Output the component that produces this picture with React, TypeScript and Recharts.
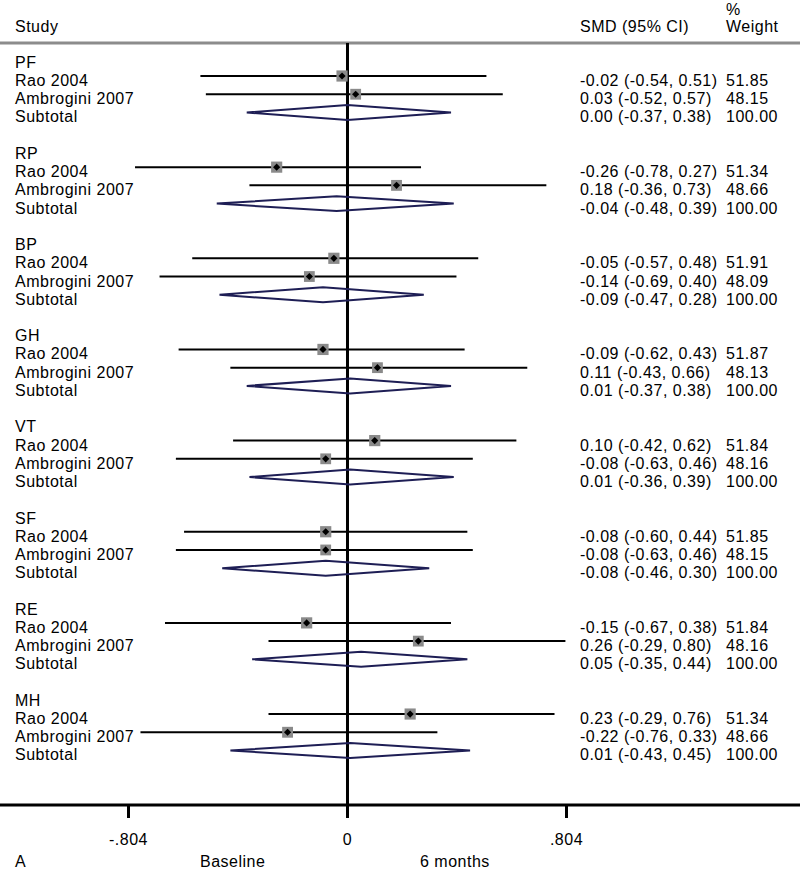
import React from 'react';
import {
  ComposedChart,
  Scatter,
  XAxis,
  YAxis,
  ReferenceLine,
} from 'recharts';

// SF-36 domains, each with two studies and a pooled subtotal
const domains = ['PF', 'RP', 'BP', 'GH', 'VT', 'SF', 'RE', 'MH'];
const studyNames = ['Rao 2004', 'Ambrogini 2007'];

const raoSmd = [-0.02, -0.26, -0.05, -0.09, 0.1, -0.08, -0.15, 0.23];
const raoLo = [-0.54, -0.78, -0.57, -0.62, -0.42, -0.6, -0.67, -0.29];
const raoHi = [0.51, 0.27, 0.48, 0.43, 0.62, 0.44, 0.38, 0.76];
const raoWeight = [51.85, 51.34, 51.91, 51.87, 51.84, 51.85, 51.84, 51.34];

const ambSmd = [0.03, 0.18, -0.14, 0.11, -0.08, -0.08, 0.26, -0.22];
const ambLo = [-0.52, -0.36, -0.69, -0.43, -0.63, -0.63, -0.29, -0.76];
const ambHi = [0.57, 0.73, 0.4, 0.66, 0.46, 0.46, 0.8, 0.33];
const ambWeight = [48.15, 48.66, 48.09, 48.13, 48.16, 48.15, 48.16, 48.66];

const subSmd = [0.0, -0.04, -0.09, 0.01, 0.01, -0.08, 0.05, 0.01];
const subLo = [-0.37, -0.48, -0.47, -0.37, -0.36, -0.46, -0.35, -0.43];
const subHi = [0.38, 0.39, 0.28, 0.38, 0.39, 0.3, 0.44, 0.45];

const xTicks = [-0.804, 0, 0.804];
const xTickLabels = ['-.804', '0', '.804'];

const FONT = "'Liberation Sans', Arial, sans-serif";
const NAVY = '#1e1e55';

interface Row {
  x: number;
  y: number;
  kind: 'head' | 'study' | 'sub';
  label: string;
  est?: number;
  lo?: number;
  hi?: number;
  w?: number;
}

const f2 = (v: number) => v.toFixed(2);

// una riga ogni 5 posizioni: titolo, due studi, subtotale, spazio
const rows: Row[] = [];
domains.forEach((d, g) => {
  const base = g * 5;
  rows.push({ x: 0, y: base, kind: 'head', label: d });
  rows.push({ x: raoSmd[g], y: base + 1, kind: 'study', label: studyNames[0], est: raoSmd[g], lo: raoLo[g], hi: raoHi[g], w: raoWeight[g] });
  rows.push({ x: ambSmd[g], y: base + 2, kind: 'study', label: studyNames[1], est: ambSmd[g], lo: ambLo[g], hi: ambHi[g], w: ambWeight[g] });
  rows.push({ x: subSmd[g], y: base + 3, kind: 'sub', label: 'Subtotal', est: subSmd[g], lo: subLo[g], hi: subHi[g], w: 100 });
});

const studyRows = rows.filter(r => r.kind === 'study');
const subRows = rows.filter(r => r.kind === 'sub');

const DIAMOND_HALF = 0.41;

const textStyle = { fontFamily: FONT, fontSize: 16, letterSpacing: 0.5, fill: '#000' };

const RowText = (props: any) => {
  const { cy, payload } = props;
  const r: Row = payload;
  const base = cy + 10;
  return (
    <g>
      <text x={15} y={base} style={textStyle}>{r.label}</text>
      {r.kind !== 'head' && (
        <>
          <text x={580} y={base} style={textStyle}>
            {`${f2(r.est!)} (${f2(r.lo!)}, ${f2(r.hi!)})`}
          </text>
          <text x={726} y={base} style={textStyle}>{f2(r.w!)}</text>
        </>
      )}
    </g>
  );
};

const WeightBox = (props: any) => {
  const { cx, cy, payload } = props;
  const side = 11 * Math.sqrt(payload.w / 50);
  const d = 3.6;
  return (
    <g>
      <rect x={cx - side / 2} y={cy - side / 2} width={side} height={side} fill="#8a8a8a" />
      <polygon
        points={`${cx - d},${cy} ${cx},${cy - d} ${cx + d},${cy} ${cx},${cy + d}`}
        fill="#000"
      />
    </g>
  );
};

const NoDot = () => <g />;

const App: React.FC = () => {
  return (
    <div style={{ position: 'absolute', left: 0, top: 0, width: 800, height: 869, background: '#fff' }}>
      <ComposedChart width={800} height={869} margin={{ top: 43, right: 0, bottom: 0, left: 0 }}>
        <XAxis
          dataKey="x"
          type="number"
          domain={[-1.2757, 1.6612]}
          allowDataOverflow
          ticks={xTicks}
          tickFormatter={(v: number) => xTickLabels[xTicks.indexOf(v)]}
          height={64}
          tickSize={13}
          tickMargin={16}
          axisLine={{ stroke: '#000', strokeWidth: 3 }}
          tickLine={{ stroke: '#000', strokeWidth: 3 }}
          tick={{ fill: '#000', fontSize: 16, fontFamily: FONT, letterSpacing: 0.5 }}
        />
        <YAxis dataKey="y" type="number" hide reversed domain={[-0.81, 40.99]} allowDataOverflow />

        <ReferenceLine y={-0.81} stroke="#8c8c8c" strokeWidth={3} ifOverflow="extendDomain" />

        {studyRows.map((r, i) => (
          <ReferenceLine
            key={`ci-${i}`}
            segment={[{ x: r.lo, y: r.y }, { x: r.hi, y: r.y }]}
            stroke="#000"
            strokeWidth={2}
          />
        ))}

        {subRows.map((r, i) => (
          <Scatter
            key={`dia-${i}`}
            data={[
              { x: r.lo, y: r.y },
              { x: r.est, y: r.y - DIAMOND_HALF },
              { x: r.hi, y: r.y },
              { x: r.est, y: r.y + DIAMOND_HALF },
              { x: r.lo, y: r.y },
            ]}
            line={{ stroke: NAVY, strokeWidth: 2 }}
            shape={NoDot}
            isAnimationActive={false}
          />
        ))}

        <ReferenceLine x={0} stroke="#000" strokeWidth={3} />

        <Scatter data={studyRows} shape={WeightBox} isAnimationActive={false} />
        <Scatter data={rows} shape={RowText} isAnimationActive={false} />
      </ComposedChart>

      <svg width={800} height={869} style={{ position: 'absolute', left: 0, top: 0, pointerEvents: 'none' }}>
        <text x={15} y={31.5} style={textStyle}>Study</text>
        <text x={580} y={31.5} style={textStyle}>SMD (95% CI)</text>
        <text x={726} y={15} style={textStyle}>%</text>
        <text x={726} y={31.5} style={textStyle}>Weight</text>
        <text x={15} y={867} style={textStyle}>A</text>
        <text x={200} y={867} style={textStyle}>Baseline</text>
        <text x={420} y={867} style={textStyle}>6 months</text>
      </svg>
    </div>
  );
};

export default App;
